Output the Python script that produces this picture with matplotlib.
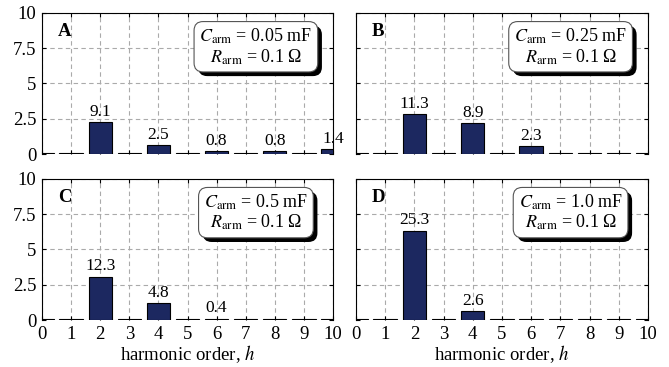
import matplotlib
matplotlib.use("Agg")
import matplotlib.pyplot as plt
import matplotlib.patheffects as pe

plt.rcParams["font.family"] = ["Liberation Serif", "DejaVu Serif"]
plt.rcParams["mathtext.fontset"] = "stix"

harmonics = [0, 1, 2, 3, 4, 5, 6, 7, 8, 9, 10]

# labels written above the bars (only the non-trivial ones)
labels_A = [None, None, "9.1", None, "2.5", None, "0.8", None, "0.8", None, "1.4"]
labels_B = [None, None, "11.3", None, "8.9", None, "2.3", None, None, None, None]
labels_C = [None, None, "12.3", None, "4.8", None, "0.4", None, None, None, None]
labels_D = [None, None, "25.3", None, "2.6", None, None, None, None, None, None]

# bar heights
heights_A = [0.06, 0.06, 2.28, 0.06, 0.62, 0.06, 0.20, 0.06, 0.20, 0.06, 0.35]
heights_B = [0.06, 0.06, 2.83, 0.06, 2.22, 0.06, 0.58, 0.06, 0.06, 0.06, 0.06]
heights_C = [0.06, 0.06, 3.08, 0.06, 1.20, 0.06, 0.10, 0.06, 0.06, 0.06, 0.06]
heights_D = [0.06, 0.06, 6.33, 0.06, 0.65, 0.06, 0.06, 0.06, 0.06, 0.06, 0.06]

letters = ["A", "B", "C", "D"]
cap_text = ["0.05", "0.25", "0.5", "1.0"]
all_heights = [heights_A, heights_B, heights_C, heights_D]
all_labels = [labels_A, labels_B, labels_C, labels_D]

yticks = [0, 2.5, 5, 7.5, 10]
ytick_labels = ["0", "2.5", "5", "7.5", "10"]

fig = plt.figure(figsize=(6.69, 3.67), dpi=100)

# [left, bottom, width, height] for each panel
boxes = [
    [0.0628, 0.580, 0.435, 0.385],
    [0.532, 0.580, 0.4366, 0.385],
    [0.0628, 0.128, 0.435, 0.385],
    [0.532, 0.128, 0.4366, 0.385],
]

bar_color = "#1c2860"

for i in range(4):
    ax = fig.add_axes(boxes[i])
    ax.bar(harmonics, all_heights[i], width=0.8, color=bar_color,
           edgecolor="black", linewidth=0.8, zorder=3)
    for h, v, lab in zip(harmonics, all_heights[i], all_labels[i]):
        if lab is not None:
            ax.text(h, v + 0.15, lab, ha="center", va="bottom", fontsize=12.5, zorder=4)

    ax.set_xlim(0, 10)
    ax.set_ylim(0, 10)
    ax.set_xticks(harmonics)
    ax.set_yticks(yticks)
    ax.grid(True, linestyle=(0, (4, 3)), color="#aaaaaa", linewidth=0.8, zorder=0)
    ax.set_axisbelow(True)
    ax.tick_params(direction="in", top=True, right=True, length=3,
                   labelsize=13.5, pad=4)
    ax.spines["bottom"].set_visible(False)
    for s in ["top", "left", "right"]:
        ax.spines[s].set_linewidth(0.8)

    if i % 2 == 0:
        ax.set_yticklabels(ytick_labels)
    else:
        ax.set_yticklabels([])
    if i >= 2:
        ax.set_xticklabels([str(h) for h in harmonics])
        ax.set_xlabel("harmonic order, $h$", fontsize=13.5, labelpad=0.5)
    else:
        ax.set_xticklabels([])

    ax.text(0.055, 0.865, letters[i], transform=ax.transAxes, fontsize=13.5,
            fontweight="bold", ha="left", va="center")

    txt = "$C_{\\rm arm}$ = " + cap_text[i] + " mF\n$R_{\\rm arm}$ = 0.1 Ω"
    t = ax.text(0.735, 0.76, txt, transform=ax.transAxes, fontsize=13,
                ha="center", va="center", linespacing=1.05, zorder=6,
                bbox=dict(boxstyle="round,pad=0.3,rounding_size=0.5",
                          facecolor="white", edgecolor="#555555", linewidth=0.8))
    t.get_bbox_patch().set_path_effects([
        pe.SimplePatchShadow(offset=(3, -3), shadow_rgbFace="black", alpha=1.0),
        pe.Normal()])

fig.savefig("out.png", dpi=100)
